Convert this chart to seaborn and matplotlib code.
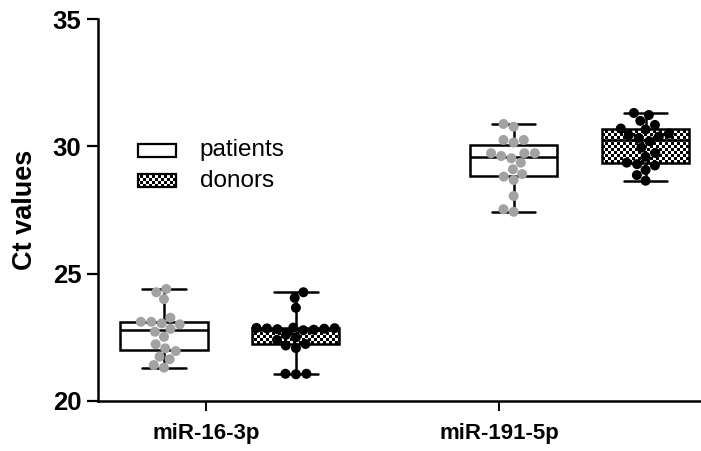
import numpy as np
import pandas as pd
import matplotlib
matplotlib.use("Agg")
import matplotlib.pyplot as plt
import seaborn as sns
from matplotlib.patches import Rectangle

# ---- data -------------------------------------------------------------
mirnas = ["miR-16-3p", "miR-191-5p"]
groups = ["patients", "donors"]

patients_mir16 = [24.40, 24.27, 24.00, 23.27, 23.11, 23.05, 23.01, 23.11, 22.83,
                  22.72, 22.52, 22.23, 21.96, 22.07, 21.74, 21.64, 21.41, 21.31]
donors_mir16 = [24.27, 24.05, 23.66, 22.88, 22.84, 22.86, 22.80, 22.82, 22.87, 22.78,
                22.85, 22.60, 22.50, 22.40, 22.24, 22.18, 22.08, 21.07, 21.07, 21.05]
patients_mir191 = [30.88, 30.77, 30.25, 30.15, 30.25, 29.73, 29.62, 29.53, 29.73,
                   29.73, 29.36, 29.10, 28.81, 28.68, 28.91, 28.05, 27.53, 27.43]
donors_mir191 = [31.31, 31.23, 31.00, 30.84, 30.70, 30.66, 30.50, 30.44, 30.38, 30.33,
                 30.20, 29.95, 29.74, 29.59, 29.36, 29.30, 29.25, 29.07, 28.87, 28.65]

yticks = [20, 25, 30, 35]
ylabel = "Ct values"

# ---- layout -------------------------------------------------------------
box_pos = {
    ("miR-16-3p", "patients"): 0.50,
    ("miR-16-3p", "donors"): 1.50,
    ("miR-191-5p", "patients"): 3.15,
    ("miR-191-5p", "donors"): 4.15,
}
tick_pos = [0.82, 3.04]
xlim = (0.0, 4.57)

series = {
    ("miR-16-3p", "patients"): patients_mir16,
    ("miR-16-3p", "donors"): donors_mir16,
    ("miR-191-5p", "patients"): patients_mir191,
    ("miR-191-5p", "donors"): donors_mir191,
}
rows = []
for (mir, grp), vals in series.items():
    for v in vals:
        rows.append({"mirna": mir, "group": grp, "pos": box_pos[(mir, grp)], "ct": v})
df = pd.DataFrame(rows)

# ---- figure -------------------------------------------------------------
sns.set_style("ticks")
plt.rcParams["font.family"] = ["Liberation Sans", "DejaVu Sans"]
plt.rcParams.update({
    "text.color": "black", "axes.labelcolor": "black",
    "xtick.color": "black", "ytick.color": "black",
    "axes.edgecolor": "black",
})

fig = plt.figure(figsize=(7.01, 4.51), dpi=100)
ax = fig.add_axes([98 / 701, 50 / 451, 603 / 701, 382 / 451])

sns.boxplot(
    data=df, x="pos", y="ct", hue="group", hue_order=groups,
    native_scale=True, dodge=False, width=0.66, whis=(0, 100),
    palette={"patients": "white", "donors": "white"},
    linecolor="black", linewidth=1.8, showfliers=False, legend=False, ax=ax,
)

sns.swarmplot(
    data=df, x="pos", y="ct", hue="group", hue_order=groups,
    native_scale=True, dodge=False,
    palette={"patients": "#a2a2a2", "donors": "black"},
    size=7.2, linewidth=0, legend=False, zorder=3, ax=ax,
)

# checkerboard texture for the donor boxes
pos = ax.get_position()
w_px = pos.width * fig.get_figwidth() * fig.dpi
h_px = pos.height * fig.get_figheight() * fig.dpi
cell = 3
nx, ny = int(round(w_px / cell)), int(round(h_px / cell))
checker = (np.add.outer(np.arange(ny), np.arange(nx)) % 2).astype(float)


def texture(patch):
    im = ax.imshow(checker, cmap="gray", vmin=0, vmax=1, extent=(0, 1, 0, 1),
                   transform=ax.transAxes, interpolation="nearest",
                   aspect="auto", zorder=1.9)
    im.set_clip_path(patch)


donor_x = [box_pos[(m, "donors")] for m in mirnas]
for patch in list(ax.patches):
    ext = patch.get_path().get_extents()
    cx = 0.5 * (ext.x0 + ext.x1)
    if any(abs(cx - d) < 0.2 for d in donor_x):
        patch.set_facecolor("none")
        texture(patch)

# legend
leg_items = [("patients", 0.657, False), ("donors", 0.576, True)]
for label, yc, checked in leg_items:
    h = 0.034
    rect = Rectangle((0.066, yc - h / 2), 0.063, h, transform=ax.transAxes,
                     facecolor="none" if checked else "white",
                     edgecolor="black", linewidth=1.6, zorder=4, clip_on=False)
    ax.add_patch(rect)
    if checked:
        texture(rect)
    ax.text(0.169, yc, label, transform=ax.transAxes, ha="left", va="center",
            fontsize=17.5)

# axes styling
ax.set_xlim(*xlim)
ax.set_ylim(20, 35)
ax.set_xticks(tick_pos)
ax.set_xticklabels(mirnas, fontsize=16, fontweight="bold")
ax.set_yticks(yticks)
ax.set_yticklabels([str(t) for t in yticks], fontsize=18.5, fontweight="bold")
ax.set_xlabel("")
ax.set_ylabel(ylabel, fontsize=19.5, fontweight="bold")
ax.yaxis.set_label_coords(-0.100, 0.5)
for s in ("top", "right"):
    ax.spines[s].set_visible(False)
for s in ("left", "bottom"):
    ax.spines[s].set_linewidth(1.8)
ax.tick_params(axis="y", length=8, width=1.6, pad=4, color="black")
ax.tick_params(axis="x", length=7, width=1.4, pad=9, color="black")

fig.savefig("out.png", dpi=100)
